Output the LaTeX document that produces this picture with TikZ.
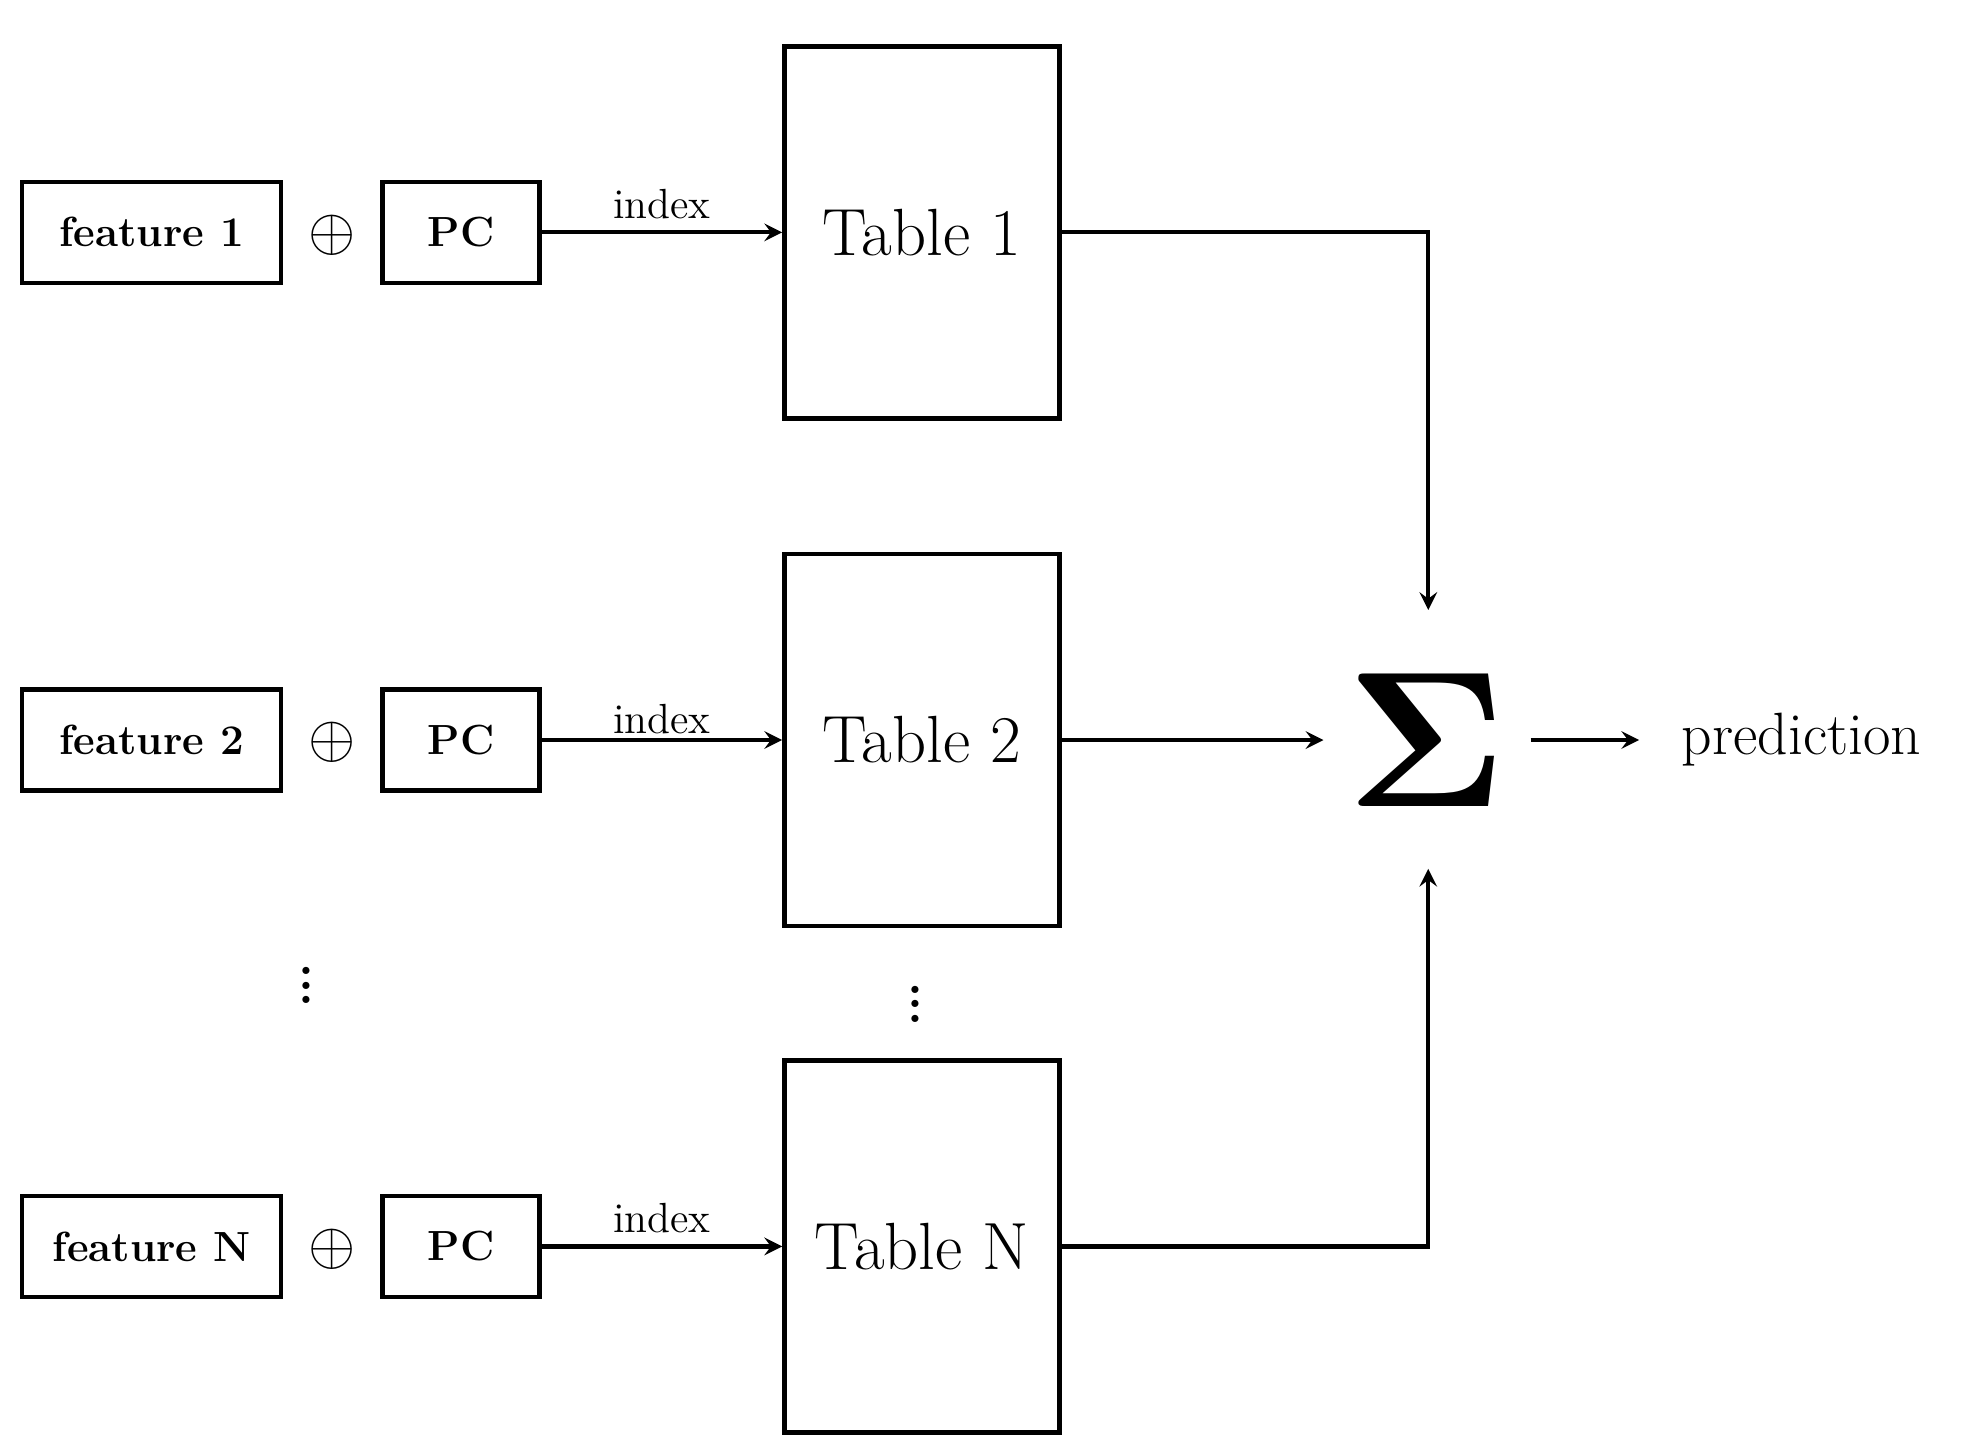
\documentclass[tikz,border=0pt]{standalone}
\usepackage{amsmath}
\usepackage{tikz}
\usetikzlibrary{arrows,calc,positioning}
\tikzstyle{feat} = [rectangle, minimum width=2.59cm, minimum height=1.01cm, inner sep=0pt, draw=black, line width=1.3pt, font=\fontsize{12}{14}\selectfont\bfseries]
\tikzstyle{pc} = [rectangle, minimum width=1.57cm, minimum height=1.01cm, inner sep=0pt, draw=black, line width=1.3pt, font=\fontsize{12}{14}\selectfont\bfseries]
\tikzstyle{table} = [rectangle, minimum width=2.75cm, minimum height=3.72cm, inner sep=0pt, draw=black, line width=1.3pt, font=\fontsize{19}{22}\selectfont]
\tikzstyle{arrow} = [line width=1.2pt,->,>=stealth]

\begin{document}
\begin{tikzpicture}[x=0.01263cm, y=-0.01263cm]
    \useasboundingbox (0,0) rectangle (1560,1146.5);

    \node (feature1) [feat] at (120,184) {feature 1};
    \node (plus1) at (263,186) {\LARGE$\oplus$};
    \node (pc1) [pc] at (365,184) {PC};
    \node (table1) [table] at (730,184) {Table 1};

    \node (feature2) [feat] at (120,586) {feature 2};
    \node (plus2) at (263,588) {\LARGE$\oplus$};
    \node (pc2) [pc] at (365,586) {PC};
    \node (table2) [table] at (730,586) {Table 2};

    \node (featureN) [feat] at (120,987) {feature N};
    \node (plusN) at (263,989) {\LARGE$\oplus$};
    \node (pcN) [pc] at (365,987) {PC};
    \node (tableN) [table] at (730,987) {Table N};

    \node (dotsl) at (243,772) {\Huge$\vdots$};
    \node (dotsr) at (725,787) {\Huge$\vdots$};

    \node (sum) at (1130,586) {\scalebox{5.5}{$\boldsymbol{\Sigma}$}};
    \node (prediction) [anchor=west, font=\fontsize{17}{20}\selectfont] at (1322,586) {prediction};

    \coordinate (sumtop) at (1131,483);
    \coordinate (sumleft) at (1048,586);
    \coordinate (sumbot) at (1131,688);
    \coordinate (sumout) at (1212,586);
    \coordinate (predin) at (1298,586);

    \draw[arrow] (pc1) -- node[anchor=south, font=\large] {index} (table1.west);
    \draw[arrow] (pc2) -- node[anchor=south, font=\large, inner sep=1pt] {index} (table2.west);
    \draw[arrow] (pcN) -- node[anchor=south, font=\large] {index} (tableN.west);

    \draw[arrow] (table1.east) -| (sumtop);
    \draw[arrow] (table2.east) -- (sumleft);
    \draw[arrow] (tableN.east) -| (sumbot);
    \draw[arrow] (sumout) -- (predin);

\end{tikzpicture}
\end{document}
